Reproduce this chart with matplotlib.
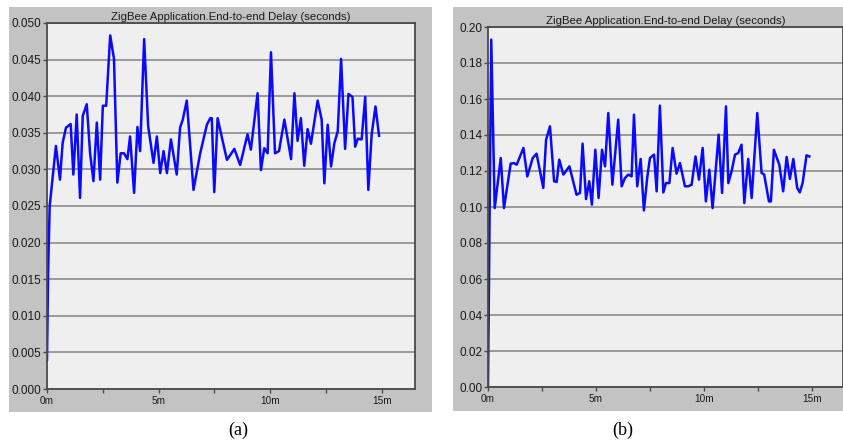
"""
Retardo extremo a extremo ZigBee: dos escenarios (a) y (b)
"""
import matplotlib
matplotlib.use('Agg')
import matplotlib.pyplot as plt
from matplotlib.patches import Rectangle
from matplotlib.ticker import MultipleLocator, FixedLocator, FixedFormatter

# --- datos (a): tiempo en minutos, retardo en segundos ---
tiempo_a = [0.0, 0.05, 0.12, 0.40, 0.58, 0.70, 0.85, 1.06, 1.18, 1.33, 1.48, 1.60,
            1.78, 1.93, 2.08, 2.23, 2.38, 2.50, 2.65, 2.83, 3.00, 3.15, 3.30, 3.45,
            3.60, 3.72, 3.90, 4.05, 4.17, 4.35, 4.53, 4.77, 4.92, 5.07, 5.22, 5.37,
            5.55, 5.81, 5.96, 6.08, 6.26, 6.56, 6.86, 7.16, 7.31, 7.38, 7.49, 7.64,
            7.85, 8.06, 8.39, 8.65, 8.98, 9.13, 9.43, 9.58, 9.73, 9.88, 10.03, 10.21,
            10.39, 10.63, 10.93, 11.08, 11.22, 11.37, 11.52, 11.67, 11.82, 12.12, 12.30,
            12.42, 12.57, 12.72, 12.87, 13.02, 13.17, 13.35, 13.50, 13.68, 13.80, 13.92,
            14.09, 14.25, 14.39, 14.54, 14.71, 14.87]
retardo_a = [0.004, 0.016, 0.025, 0.0332, 0.0286, 0.0336, 0.0357, 0.0362, 0.0293, 0.0375,
             0.0261, 0.0373, 0.0389, 0.0322, 0.0284, 0.0364, 0.0286, 0.0387, 0.0387,
             0.0483, 0.0451, 0.0282, 0.0322, 0.0322, 0.0314, 0.0345, 0.0268, 0.0358,
             0.0325, 0.0478, 0.0359, 0.0309, 0.0345, 0.0295, 0.0325, 0.0295, 0.0341,
             0.0293, 0.0357, 0.0368, 0.0394, 0.0272, 0.0322, 0.0361, 0.0370, 0.0370,
             0.0269, 0.0370, 0.0341, 0.0313, 0.0328, 0.0306, 0.0348, 0.0327, 0.0404,
             0.0299, 0.0329, 0.0322, 0.0460, 0.0322, 0.0325, 0.0368, 0.0314, 0.0404,
             0.0339, 0.0370, 0.0305, 0.0355, 0.0335, 0.0394, 0.0368, 0.0281, 0.0361,
             0.0304, 0.0336, 0.0352, 0.0451, 0.0328, 0.0403, 0.0399, 0.0331, 0.0342,
             0.0341, 0.0399, 0.0272, 0.0348, 0.0386, 0.0346]

# --- datos (b) ---
tiempo_b = [0.0, 0.15, 0.31, 0.59, 0.74, 1.05, 1.20, 1.33, 1.64, 1.82, 2.07, 2.25, 2.56,
            2.69, 2.87, 3.06, 3.18, 3.30, 3.49, 3.77, 4.10, 4.26, 4.38, 4.54, 4.69, 4.81,
            4.97, 5.12, 5.28, 5.42, 5.57, 5.76, 6.03, 6.19, 6.34, 6.50, 6.65, 6.76, 6.91,
            7.07, 7.22, 7.38, 7.50, 7.69, 7.81, 7.96, 8.12, 8.24, 8.40, 8.55, 8.73, 8.89,
            9.12, 9.27, 9.43, 9.61, 9.77, 9.94, 10.09, 10.25, 10.40, 10.68, 10.84, 11.02,
            11.13, 11.28, 11.44, 11.59, 11.74, 11.87, 12.05, 12.21, 12.47, 12.67, 12.79,
            13.01, 13.10, 13.24, 13.49, 13.67, 13.83, 13.98, 14.14, 14.32, 14.44, 14.57,
            14.75, 14.88]
retardo_b = [0.0, 0.193, 0.0994, 0.1272, 0.0994, 0.1241, 0.1244, 0.1235, 0.1328, 0.1170,
             0.1272, 0.1296, 0.1106, 0.1374, 0.1448, 0.1143, 0.1139, 0.1263, 0.1180,
             0.1226, 0.1068, 0.1078, 0.1352, 0.1044, 0.1143, 0.1013, 0.1318, 0.1050,
             0.1318, 0.1226, 0.1522, 0.1124, 0.1485, 0.1115, 0.1161, 0.1180, 0.1170,
             0.1513, 0.1115, 0.1267, 0.0981, 0.1170, 0.1272, 0.1291, 0.1087, 0.1563,
             0.1081, 0.1133, 0.1133, 0.1328, 0.1185, 0.1244, 0.1115, 0.1115, 0.1124,
             0.1281, 0.1152, 0.1328, 0.1031, 0.1207, 0.0994, 0.1402, 0.1078, 0.1559,
             0.1133, 0.1198, 0.1291, 0.1300, 0.1346, 0.1022, 0.1267, 0.1050, 0.1522,
             0.1189, 0.1180, 0.1031, 0.1031, 0.1318, 0.1235, 0.1087, 0.1278, 0.1156,
             0.1267, 0.1106, 0.1081, 0.1133, 0.1287, 0.1281]

titulo = 'ZigBee Application.End-to-end Delay (seconds)'
etiquetas_x = ['0m', '5m', '10m', '15m']
ticks_x = [0, 5, 10, 15]

W, H = 843, 446
fig = plt.figure(figsize=(W / 100, H / 100), dpi=100)
fig.patch.set_facecolor('white')

# marcos grises de cada panel (en pixeles), detras de los ejes
for x0, y0, x1, y1 in [(9, 7, 432, 412), (453, 7, 843, 411)]:
    fig.patches.append(Rectangle((x0 / W, 1 - y1 / H), (x1 - x0) / W, (y1 - y0) / H,
                                 transform=fig.transFigure, facecolor='#c3c3c3',
                                 edgecolor='none', zorder=-5))

ax1 = fig.add_axes([47 / W, 1 - 389 / H, (415 - 47) / W, (389 - 23) / H])
ax2 = fig.add_axes([488 / W, 1 - 387 / H, (843 - 488) / W, (387 - 27) / H])


def estilo(ax, ymax, paso, fmt, xmax):
    ax.set_facecolor('#efefef')
    ax.set_xlim(0, xmax)
    ax.set_ylim(0, ymax)
    ax.yaxis.set_major_locator(MultipleLocator(paso))
    ax.yaxis.set_major_formatter(plt.FuncFormatter(lambda v, p: fmt.format(v)))
    ax.xaxis.set_major_locator(FixedLocator(ticks_x))
    ax.xaxis.set_major_formatter(FixedFormatter(etiquetas_x))
    ax.xaxis.set_minor_locator(FixedLocator([2.5, 7.5, 12.5]))
    ax.grid(True, axis='y', color='#8c8c8c', linewidth=1.2)
    ax.set_axisbelow(True)
    for s in ax.spines.values():
        s.set_color('#4a4a4a')
        s.set_linewidth(1.3)
    ax.tick_params(axis='y', direction='out', length=3, width=1, color='#4a4a4a',
                   labelsize=8.5, pad=1, labelcolor='#1a1a1a')
    ax.tick_params(axis='x', which='both', direction='out', length=3, width=1,
                   color='#4a4a4a', labelsize=7.2, pad=2, labelcolor='#1a1a1a')
    ax.set_title(titulo, fontsize=8.2, pad=2.5, color='#1a1a1a',
                 family='Liberation Sans')
    for lbl in ax.get_xticklabels() + ax.get_yticklabels():
        lbl.set_family('Liberation Sans')


ax1.plot(tiempo_a, retardo_a, color='#0a0aff', linewidth=1.8)
estilo(ax1, 0.050, 0.005, '{:.3f}', 16.48)

ax2.plot(tiempo_b, retardo_b, color='#0a0aff', linewidth=1.8)
estilo(ax2, 0.20, 0.02, '{:.2f}', 16.44)

fig.text(238 / W, 1 - 430 / H, '(a)', ha='center', va='center', fontsize=13,
         family='Liberation Serif')
fig.text(623 / W, 1 - 430 / H, '(b)', ha='center', va='center', fontsize=13,
         family='Liberation Serif')

fig.savefig('out.png', dpi=100)
